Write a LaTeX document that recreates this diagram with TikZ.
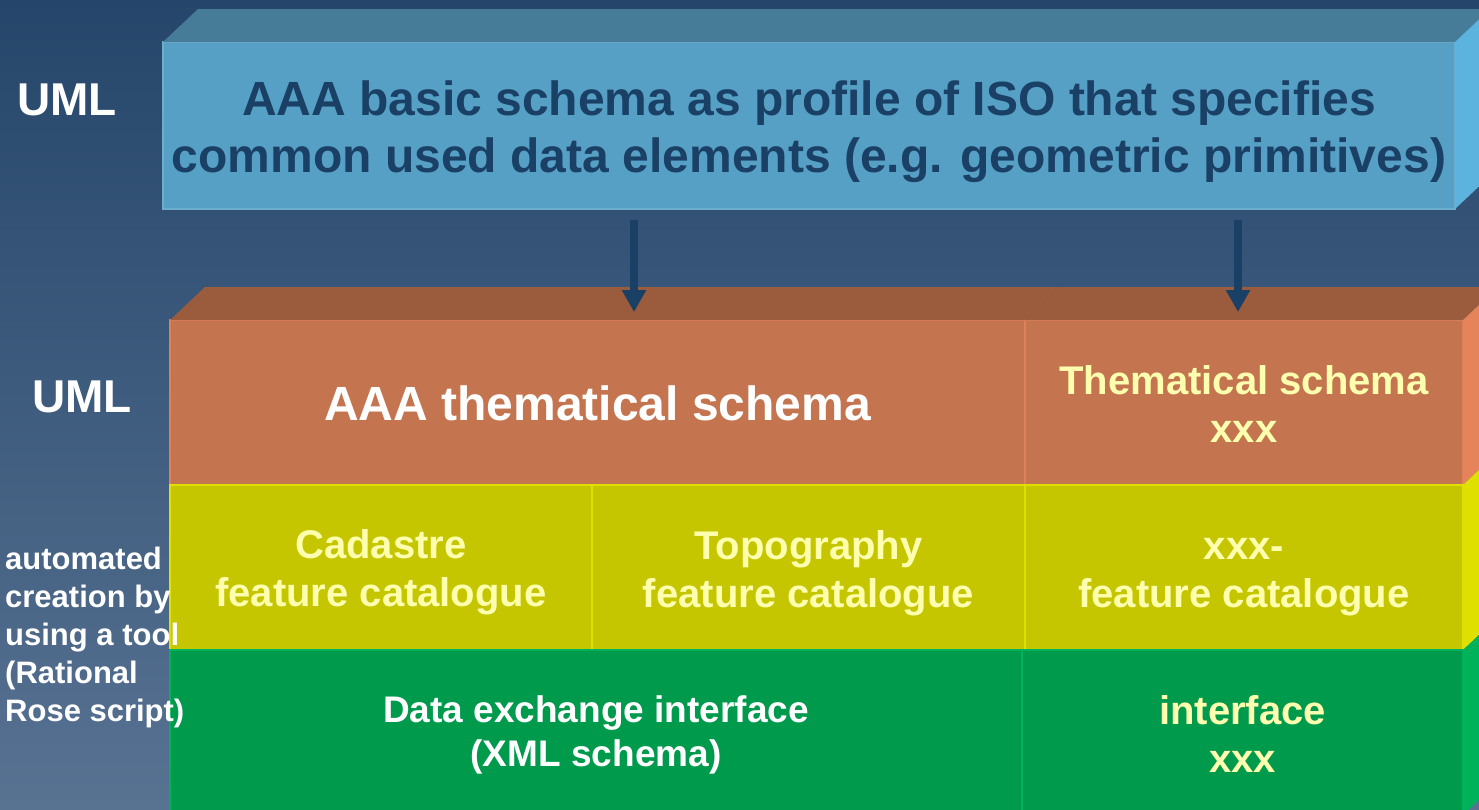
\documentclass[tikz,border=0pt]{standalone}
\usepackage{fontspec}
\setmainfont{Liberation Sans}
\usepackage{xcolor}
\usetikzlibrary{positioning, arrows.meta, calc}

\definecolor{bgtop}{RGB}{37,70,106}
\definecolor{bgbot}{RGB}{88,114,146}
\definecolor{blufront}{RGB}{85,160,196}
\definecolor{blutop}{RGB}{70,124,151}
\definecolor{bluside}{RGB}{92,180,222}
\definecolor{navy}{RGB}{26,64,102}
\definecolor{orfront}{RGB}{196,116,78}
\definecolor{ortop}{RGB}{154,92,60}
\definecolor{orside}{RGB}{229,132,90}
\definecolor{yefront}{RGB}{198,198,0}
\definecolor{yeside}{RGB}{224,224,0}
\definecolor{grfront}{RGB}{0,154,76}
\definecolor{grside}{RGB}{0,179,90}
\definecolor{paleyellow}{RGB}{255,255,176}

% top face and side face of a slab
\newcommand{\slabtop}[2]{%
  \fill[#2] (#1.north west) -- ++(35,-33) -- ($(#1.north east)+(35,-33)$) -- (#1.north east) -- cycle;}
\newcommand{\slabside}[2]{%
  \fill[#2] (#1.north east) -- ++(35,-33) -- ($(#1.south east)+(35,-33)$) -- (#1.south east) -- cycle;}

\begin{document}
\begin{tikzpicture}[
    x=1pt, y=-1pt,
    face/.style={rectangle, inner sep=0pt, outer sep=0pt, line width=1.5pt},
    txt/.style={align=center, inner sep=0pt, font=\bfseries\fontsize{40}{48}\selectfont, text=paleyellow},
    side/.style={font=\bfseries\fontsize{46}{50}\selectfont, text=white},
    arr/.style={-{Triangle[width=23pt, length=22pt]}, line width=8pt, navy}
]
\useasboundingbox (0,0) rectangle (1479,809);
\shade[top color=bgtop, bottom color=bgbot] (0,0) rectangle (1479,809);
\clip (0,0) rectangle (1479,809);

% top layer
\node[face, fill=blufront, draw=blufront!85!white, minimum width=1292pt, minimum height=167pt] (basic) at (809,125.5) {};
\slabtop{basic}{blutop}
\slabside{basic}{bluside}
\node[txt, text=navy, font=\bfseries\fontsize{48}{57}\selectfont] (basictxt) at ([yshift=-6pt]basic.center)
  {AAA basic schema as profile of ISO that specifies\\common used data elements (e.g. geometric primitives)};

% thematical layer
\node[face, fill=orfront, draw=orside!80!orfront, minimum width=855pt, minimum height=165pt] (thema) at (597.5,402.5) {};
\node[face, fill=orfront, draw=orside!80!orfront, minimum width=438pt, minimum height=165pt] (themx) at (1244,402.5) {};
\slabtop{thema}{ortop}
\slabtop{themx}{ortop}
\slabside{themx}{orside}
\node[txt, text=white, font=\bfseries\fontsize{48}{57}\selectfont] (thematxt) at ([yshift=-1pt]thema.center) {AAA thematical schema};
\node[txt] (themxtxt) at ([yshift=-1pt]themx.center) {Thematical schema\\xxx};

% feature catalogues
\node[face, fill=yefront, draw=yeside, minimum width=422pt, minimum height=165pt] (cad) at (381,567.5) {};
\node[face, fill=yefront, draw=yeside, minimum width=433pt, minimum height=165pt] (topo) at (808.5,567.5) {};
\node[face, fill=yefront, draw=yeside, minimum width=438pt, minimum height=165pt] (catx) at (1244,567.5) {};
\slabside{catx}{yeside}
\node[txt] (cadtxt) at ([yshift=-5pt]cad.center) {Cadastre\\feature catalogue};
\node[txt] (topotxt) at ([yshift=-6pt]topo.center) {Topography\\feature catalogue};
\node[txt] (catxtxt) at ([yshift=-10pt]catx.center) {xxx-\\feature catalogue};

% interfaces
\node[face, fill=grfront, draw=grside, minimum width=852pt, minimum height=165pt] (xml) at (596,732.5) {};
\node[face, fill=grfront, draw=grside, minimum width=441pt, minimum height=165pt] (intx) at (1242.5,732.5) {};
\slabside{intx}{grside}
\node[txt, text=white, font=\bfseries\fontsize{37}{44}\selectfont] (xmltxt) at ([yshift=-2pt]xml.center) {Data exchange interface\\(XML schema)};
\node[txt] (intxtxt) at ([yshift=-1pt]intx.center) {interface\\xxx};

% arrows
\coordinate (tipA) at (634,312);
\coordinate (tipB) at (1238,312);
\draw[arr] ([yshift=-11pt]basic.south -| tipA) -- (tipA);
\draw[arr] ([yshift=-11pt]basic.south -| tipB) -- (tipB);

% labels on the left
\node[side] (uml1) at (67,100) {UML};
\node[side] (uml2) at (82,397) {UML};
\node[side, anchor=west, align=left, inner sep=0pt, font=\bfseries\fontsize{31}{38}\selectfont] (auto) at (5,637)
  {automated\\creation by\\using a tool\\(Rational\\Rose script)};

\end{tikzpicture}
\end{document}
